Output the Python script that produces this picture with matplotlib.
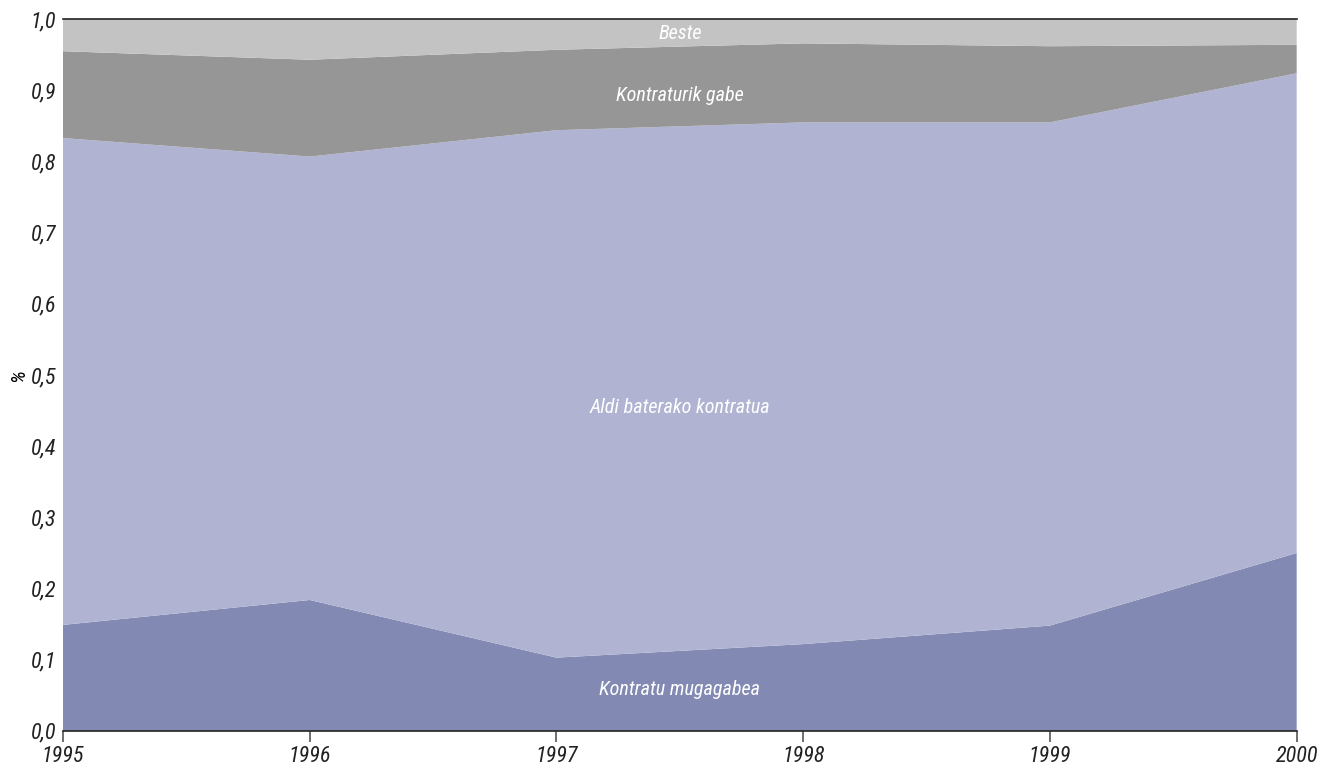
import matplotlib.pyplot as plt
from matplotlib import font_manager
from matplotlib.ticker import FuncFormatter

# Contract type shares per year
years = [1995, 1996, 1997, 1998, 1999, 2000]
mugagabea = [0.149, 0.184, 0.103, 0.122, 0.148, 0.250]
aldi_baterako = [0.684, 0.623, 0.741, 0.733, 0.707, 0.674]
kontraturik_gabe = [0.122, 0.136, 0.113, 0.111, 0.107, 0.040]
beste = [0.045, 0.057, 0.043, 0.034, 0.038, 0.036]

labels = ["Kontratu mugagabea", "Aldi baterako kontratua", "Kontraturik gabe", "Beste"]
colors = ["#8289b3", "#b0b4d2", "#969696", "#c3c3c3"]
label_y = [0.058, 0.455, 0.893, 0.980]
y_ticks = [0.0, 0.1, 0.2, 0.3, 0.4, 0.5, 0.6, 0.7, 0.8, 0.9, 1.0]

# pick a narrow font if one is installed
installed = {f.name for f in font_manager.fontManager.ttflist}
narrow = "DejaVu Sans"
for cand in ["Liberation Sans Narrow", "DejaVu Sans Condensed", "Roboto Condensed",
             "Open Sans Condensed", "Noto Sans Condensed", "Roboto"]:
    if cand in installed:
        narrow = cand
        break
plt.rcParams["font.family"] = [narrow, "DejaVu Sans"]
plt.rcParams["font.stretch"] = "condensed"

fig = plt.figure(figsize=(13.23, 7.67), dpi=100)
ax = fig.add_axes([0.0476, 0.047, 0.9325, 0.928])

ax.stackplot(years, mugagabea, aldi_baterako, kontraturik_gabe, beste,
             colors=colors, linewidth=0)

for text, y in zip(labels, label_y):
    ax.text(1997.5, y, text, color="white", style="italic", fontsize=14.5,
            ha="center", va="center")

ax.set_xlim(1995, 2000)
ax.set_ylim(0, 1.0)
ax.set_xticks(years)
ax.set_yticks(y_ticks)
ax.yaxis.set_major_formatter(FuncFormatter(lambda v, p: f"{v:.1f}".replace(".", ",")))

for lab in ax.get_xticklabels() + ax.get_yticklabels():
    lab.set_fontstyle("italic")
    lab.set_fontsize(16)
    lab.set_color("#222222")

ax.tick_params(axis="x", direction="out", length=8, width=1.2, color="#555555", pad=3)
ax.tick_params(axis="y", length=0, pad=5)

ax.spines["left"].set_visible(False)
ax.spines["right"].set_visible(False)
ax.spines["top"].set_color("#222222")
ax.spines["bottom"].set_color("#222222")
ax.spines["top"].set_linewidth(1.2)
ax.spines["bottom"].set_linewidth(1.2)

ax.set_ylabel("%", fontsize=15, style="italic", labelpad=2)

fig.savefig("out.png", dpi=100)
